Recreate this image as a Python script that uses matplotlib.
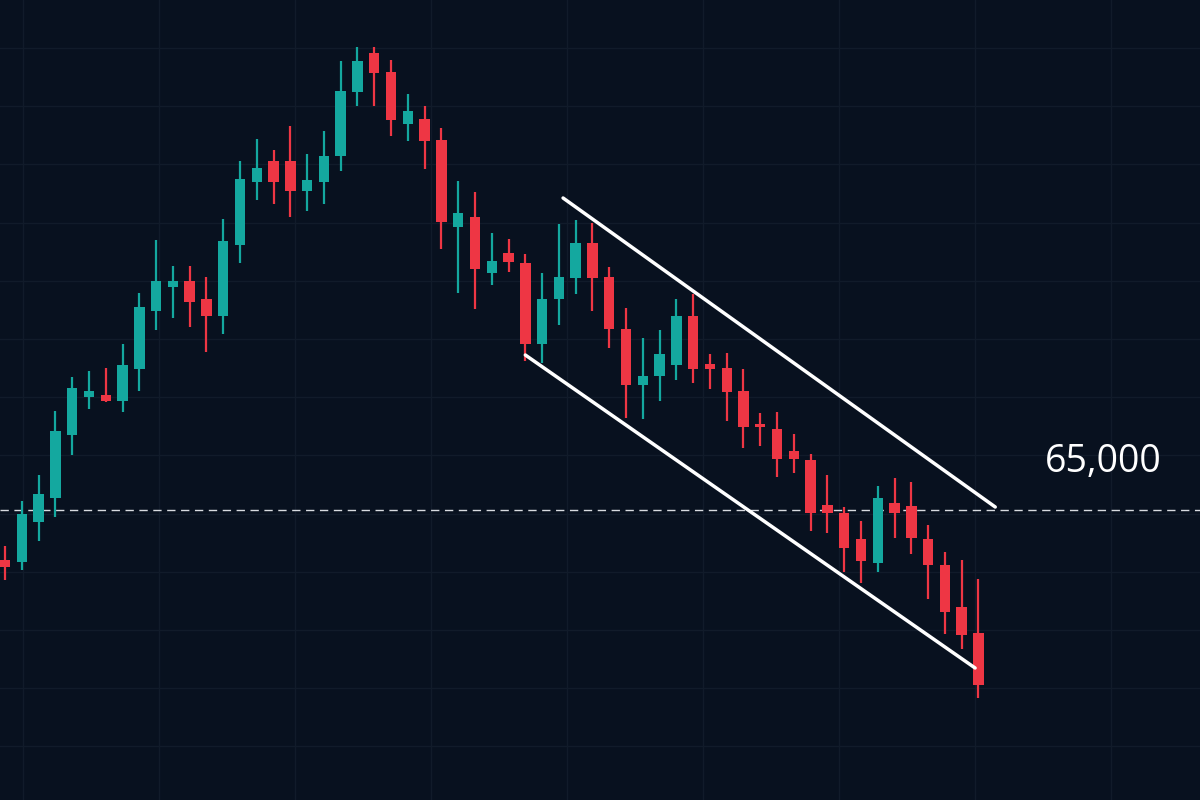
import numpy as np
import matplotlib.pyplot as plt

plt.rcParams["font.family"] = ["Open Sans", "DejaVu Sans"]

BG = "#08111f"
UP = "#14a89f"
DOWN = "#ee3644"
GRID = "#111b2a"

# OHLC values
opens = [63750, 63700, 64700, 65300, 66875, 67825, 67875, 67725, 68525, 69975,
         70575, 70725, 70275, 69850, 71625, 73200, 73725, 73725, 72975, 73200,
         73850, 75450, 76425, 75950, 74650, 74775, 74250, 72075, 72325, 70925,
         71425, 71175, 69150, 70275, 70800, 71675, 70825, 69525, 68125, 68350,
         68625, 69850, 68650, 68550, 67975, 67150, 67025, 66475, 66250, 65125,
         64925, 64275, 63675, 65175, 65100, 64275, 63625, 62575, 61925]
highs = [64100, 65225, 65875, 67475, 68325, 68475, 68550, 69150, 70425, 71750,
         71100, 71100, 70825, 72275, 73725, 74275, 74000, 74600, 73900, 74475,
         76225, 76575, 76575, 76250, 75400, 75100, 74550, 73225, 72950, 71925,
         71775, 71400, 70925, 72150, 72250, 72175, 71075, 70050, 69300, 69500,
         70275, 70400, 68900, 68925, 68525, 67425, 67450, 66900, 66400, 65875,
         65075, 64725, 65600, 65800, 65700, 64625, 63950, 63750, 63275]
lows = [63250, 63500, 64225, 64825, 66375, 67525, 67700, 67450, 67975, 69500,
        69800, 69575, 68950, 69400, 71175, 72750, 72650, 72325, 72475, 72650,
        73475, 75100, 75100, 74350, 74225, 73525, 71525, 70425, 70025, 70625,
        70950, 68725, 68675, 69625, 70400, 69975, 69050, 67300, 67275, 67725,
        68250, 68175, 68025, 67225, 66550, 66600, 65825, 65925, 64475, 64425,
        63450, 63175, 63450, 64300, 63900, 62775, 61900, 61525, 60300]
closes = [63575, 64900, 65400, 66975, 68050, 67975, 67725, 68625, 70075, 70725,
          70725, 70200, 69850, 71725, 73275, 73550, 73200, 72975, 73250, 73850,
          75475, 76225, 75925, 74750, 74975, 74225, 72200, 72425, 71025, 71225,
          71200, 69150, 70275, 70825, 71675, 70800, 69525, 68125, 68350, 68900,
          69850, 68525, 68525, 67950, 67075, 67075, 66275, 66275, 64925, 64925,
          64050, 63725, 65300, 64925, 64300, 63625, 62450, 61875, 60625]

LEVEL = 65000
LEVEL_LABEL = "65,000"

# descending channel (candle index, price)
upper_x = [33.25, 59.0]
upper_y = [72800, 65075]
lower_x = [31.0, 57.8]
lower_y = [68875, 61050]

fig = plt.figure(figsize=(12, 8), dpi=100, facecolor=BG)
ax = fig.add_axes([0, 0, 1, 1], facecolor=BG)

# faint grid
for gx in np.arange(1.07, 72, 8.1):
    ax.axvline(gx, color=GRID, lw=1, zorder=0)
for gy in np.arange(76550, 57000, -1455):
    ax.axhline(gy, color=GRID, lw=1, zorder=0)

idx = np.arange(len(opens))
for i, o, h, l, c in zip(idx, opens, highs, lows, closes):
    col = UP if c >= o else DOWN
    ax.vlines(i, l, h, color=col, lw=1.6, zorder=2)
    ax.bar(i, max(abs(c - o), 60), bottom=min(o, c), width=0.62,
           color=col, zorder=3)

ax.axhline(LEVEL, color="#d8dbe0", lw=1, ls=(0, (6, 4)), zorder=1)
ax.plot(upper_x, upper_y, color="white", lw=2.5, solid_capstyle="round", zorder=4)
ax.plot(lower_x, lower_y, color="white", lw=2.5, solid_capstyle="round", zorder=4)

ax.text(65.45, LEVEL + 1200, LEVEL_LABEL, color="white", fontsize=27,
        fontweight="medium", ha="center", va="center", zorder=5)

ax.set_xlim(-0.3, 71.2)
ax.set_ylim(57750, 77750)
ax.axis("off")

fig.savefig("out.png", facecolor=BG)
